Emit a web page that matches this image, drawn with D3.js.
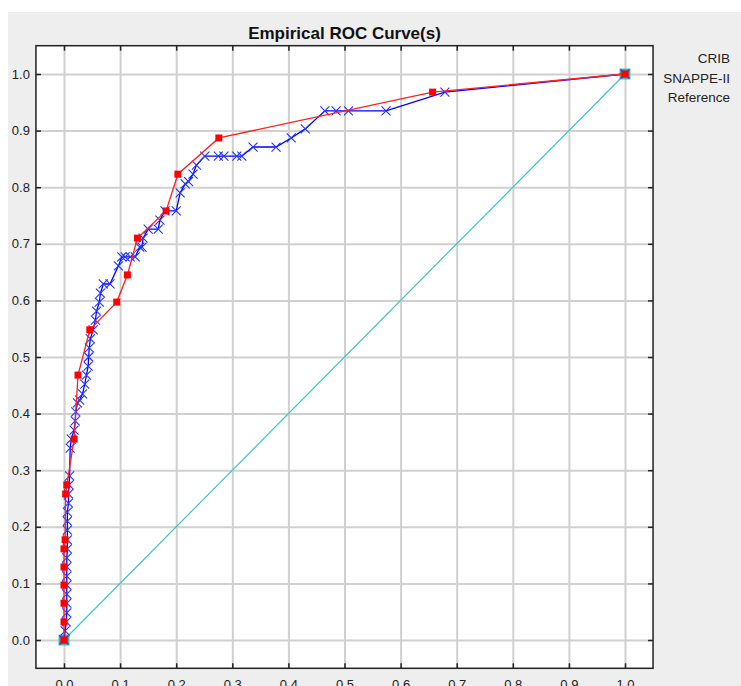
<!DOCTYPE html>
<html>
<head>
<meta charset="utf-8">
<script src="https://cdn.jsdelivr.net/npm/d3@7"></script>
<style>
  body { margin: 0; background: #ffffff; }
  svg { display: block; font-family: "Liberation Sans", Arial, sans-serif; }
</style>
</head>
<body>
<script>
// tick values shared by both axes
var ticks = [0, 0.1, 0.2, 0.3, 0.4, 0.5, 0.6, 0.7, 0.8, 0.9, 1.0];

// CRIB (red squares)
var cribFpr = [0, 0, 0, 0, 0, 0, 0.002, 0.003, 0.005, 0.018, 0.025, 0.046, 0.094, 0.113, 0.131, 0.182, 0.203, 0.276, 0.657, 1];
var cribTpr = [0, 0.032, 0.065, 0.097, 0.129, 0.161, 0.177, 0.258, 0.274, 0.355, 0.468, 0.548, 0.597, 0.645, 0.710, 0.758, 0.823, 0.887, 0.968, 1];

// SNAPPE-II (blue crosses)
var snapFpr = [0, 0.002, 0.004, 0.005, 0.005, 0.005, 0.005, 0.005, 0.005, 0.005, 0.006, 0.006, 0.006, 0.006, 0.006, 0.008, 0.008, 0.009, 0.010,
  0.011, 0.013, 0.018, 0.020, 0.021, 0.024, 0.028, 0.033, 0.037, 0.040, 0.043, 0.044, 0.045, 0.047, 0.052, 0.056, 0.058, 0.063, 0.065,
  0.070, 0.082, 0.097, 0.103, 0.109, 0.118, 0.127, 0.135, 0.139, 0.141, 0.150, 0.168, 0.171, 0.180, 0.200, 0.207, 0.216, 0.222, 0.230,
  0.236, 0.251, 0.275, 0.285, 0.308, 0.317, 0.337, 0.378, 0.405, 0.430, 0.465, 0.485, 0.507, 0.574, 0.679, 1];
var snapTpr = [0, 0.016, 0.032, 0.048, 0.065, 0.081, 0.097, 0.113, 0.129, 0.145, 0.161, 0.177, 0.194, 0.210, 0.226, 0.242, 0.258, 0.274, 0.290,
  0.339, 0.355, 0.371, 0.387, 0.403, 0.419, 0.424, 0.435, 0.452, 0.468, 0.484, 0.500, 0.516, 0.532, 0.548, 0.565, 0.581, 0.597, 0.613,
  0.629, 0.629, 0.661, 0.677, 0.677, 0.677, 0.677, 0.694, 0.694, 0.710, 0.726, 0.726, 0.742, 0.758, 0.758, 0.790, 0.806, 0.810, 0.823,
  0.839, 0.855, 0.855, 0.855, 0.855, 0.855, 0.871, 0.871, 0.887, 0.903, 0.935, 0.935, 0.935, 0.935, 0.968, 1];

// chance diagonal
var refFpr = [0, 1];
var refTpr = [0, 1];

var legendNames = ["CRIB", "SNAPPE-II", "Reference"];

var W = 741, H = 686;

var svg = d3.select("body")
    .append("svg")
    .attr("width", W)
    .attr("height", H);

// grey panel
svg.append("rect")
    .attr("x", 8).attr("y", 12)
    .attr("width", W - 8).attr("height", H - 12)
    .attr("fill", "#eeeeee");

var x = d3.scaleLinear().domain([0, 1]).range([64, 625]);
var y = d3.scaleLinear().domain([0, 1]).range([640, 74]);

var pLeft = x(-0.05), pRight = x(1.05), pTop = y(1.05), pBottom = y(-0.05);

svg.append("rect")
    .attr("x", pLeft).attr("y", pTop)
    .attr("width", pRight - pLeft).attr("height", pBottom - pTop)
    .attr("fill", "#ffffff");

// gridlines
svg.append("g")
    .attr("transform", "translate(0," + pBottom + ")")
    .call(d3.axisBottom(x).tickValues(ticks).tickSize(-(pBottom - pTop)).tickFormat(""))
    .call(g => g.select(".domain").remove())
    .call(g => g.selectAll("line").attr("stroke", "#d0d0d0").attr("stroke-width", 2));

svg.append("g")
    .attr("transform", "translate(" + pLeft + ",0)")
    .call(d3.axisLeft(y).tickValues(ticks).tickSize(-(pRight - pLeft)).tickFormat(""))
    .call(g => g.select(".domain").remove())
    .call(g => g.selectAll("line").attr("stroke", "#d0d0d0").attr("stroke-width", 2));

// inward ticks + labels
function styleAxis(g) {
    g.select(".domain").remove();
    g.selectAll("line").attr("stroke", "#222").attr("stroke-width", 1.5);
    g.selectAll("text").attr("fill", "#222").attr("font-size", 13)
        .attr("font-family", "'Liberation Sans', Arial, sans-serif");
}

svg.append("g")
    .attr("transform", "translate(" + pLeft + ",0)")
    .call(d3.axisLeft(y).tickValues(ticks).tickSize(-5).tickPadding(6).tickFormat(d3.format(".1f")))
    .call(styleAxis);

svg.append("g")
    .attr("transform", "translate(" + pRight + ",0)")
    .call(d3.axisRight(y).tickValues(ticks).tickSize(-5).tickFormat(""))
    .call(styleAxis);

svg.append("g")
    .attr("transform", "translate(0," + pTop + ")")
    .call(d3.axisTop(x).tickValues(ticks).tickSize(-5).tickFormat(""))
    .call(styleAxis);

svg.append("g")
    .attr("transform", "translate(0," + pBottom + ")")
    .call(d3.axisBottom(x).tickValues(ticks).tickSize(-5).tickPadding(11).tickFormat(d3.format(".1f")))
    .call(styleAxis);

// frame
svg.append("rect")
    .attr("x", pLeft).attr("y", pTop)
    .attr("width", pRight - pLeft).attr("height", pBottom - pTop)
    .attr("fill", "none")
    .attr("stroke", "#222")
    .attr("stroke-width", 1.5);

var line = d3.line().x(d => x(d[0])).y(d => y(d[1]));

var refPts = d3.zip(refFpr, refTpr);
var snapPts = d3.zip(snapFpr, snapTpr);
var cribPts = d3.zip(cribFpr, cribTpr);

// Reference
svg.append("path")
    .attr("d", line(refPts))
    .attr("fill", "none")
    .attr("stroke", "#40c4c4")
    .attr("stroke-width", 1.2);

svg.selectAll(".refmark")
    .data(refPts)
    .enter()
    .append("rect")
    .attr("class", "refmark")
    .attr("x", d => x(d[0]) - 5).attr("y", d => y(d[1]) - 5)
    .attr("width", 10).attr("height", 10)
    .attr("fill", "#30a0a8")
    .attr("stroke", "#40c4c4");

// SNAPPE-II
svg.append("path")
    .attr("d", line(snapPts))
    .attr("fill", "none")
    .attr("stroke", "#0000ff")
    .attr("stroke-width", 1.3);

svg.selectAll(".snapmark")
    .data(snapPts)
    .enter()
    .append("path")
    .attr("class", "snapmark")
    .attr("d", d => {
        var cx = x(d[0]), cy = y(d[1]), r = 4.5;
        return "M" + (cx - r) + "," + (cy - r) + "L" + (cx + r) + "," + (cy + r) +
            "M" + (cx - r) + "," + (cy + r) + "L" + (cx + r) + "," + (cy - r);
    })
    .attr("stroke", "#2233ff")
    .attr("stroke-width", 1.1)
    .attr("fill", "none");

// CRIB
svg.append("path")
    .attr("d", line(cribPts))
    .attr("fill", "none")
    .attr("stroke", "#ff2020")
    .attr("stroke-width", 1.3);

svg.selectAll(".cribmark")
    .data(cribPts)
    .enter()
    .append("rect")
    .attr("class", "cribmark")
    .attr("x", d => x(d[0]) - 3.5).attr("y", d => y(d[1]) - 3.5)
    .attr("width", 7).attr("height", 7)
    .attr("fill", "#ff0000");

// title
svg.append("text")
    .attr("x", (pLeft + pRight) / 2)
    .attr("y", 39)
    .attr("text-anchor", "middle")
    .attr("font-size", 17)
    .attr("font-weight", "bold")
    .attr("fill", "#111")
    .text("Empirical ROC Curve(s)");

// legend
svg.selectAll(".legend")
    .data(legendNames)
    .enter()
    .append("text")
    .attr("class", "legend")
    .attr("x", 730)
    .attr("y", (d, i) => 63 + i * 19.5)
    .attr("text-anchor", "end")
    .attr("font-size", 13.5)
    .attr("fill", "#222")
    .text(d => d);
</script>
</body>
</html>
